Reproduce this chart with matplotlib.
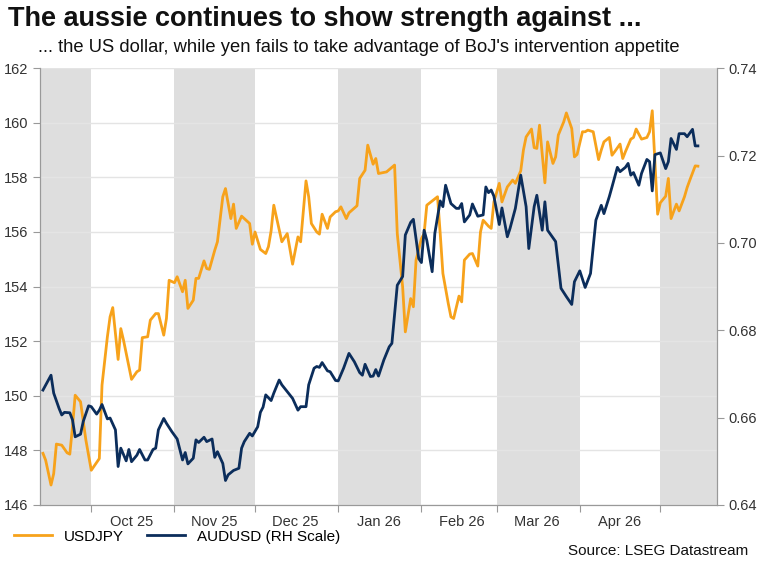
import matplotlib

matplotlib.use("Agg")

import matplotlib.pyplot as plt
import pandas as pd
from matplotlib.lines import Line2D

plt.rcParams["font.family"] = ["Liberation Sans", "DejaVu Sans"]

BASE = pd.Timestamp("2025-10-01")

# days from 1 Oct 2025
usdjpy_days = [-18, -17, -15, -14, -13, -11, -9, -8, -7, -6, -4, -2, 0, 3, 4, 6, 7, 8, 10, 11,
               12, 15, 17, 18, 19, 21, 22, 24, 25, 27, 28, 29, 31, 32, 34, 35, 36, 38, 39, 40,
               42, 43, 44, 46, 47, 49, 50, 52, 53, 54, 56, 59, 60, 61, 63, 65, 66, 67, 68, 70,
               71, 73, 74, 75, 77, 78, 80, 81, 82, 84, 85, 86, 88, 89, 91, 92, 93, 95, 96, 99,
               100, 102, 103, 105, 106, 107, 110, 113, 114, 116, 117, 119, 120, 121, 123, 124, 125, 129, 130, 131,
               133, 134, 135, 137, 138, 139, 141, 142, 144, 145, 146, 148, 149, 150, 152, 153, 155, 157, 158, 160,
               161, 162, 164, 165, 166, 167, 169, 170, 172, 173, 174, 176, 177, 179, 180, 181, 183, 184, 185, 187,
               189, 190, 191, 193, 194, 195, 197, 198, 199, 201, 202, 203, 205, 207, 208, 209, 211, 212, 214, 215,
               216, 218, 219, 221, 222, 223, 225, 226]
usdjpy = [147.89, 147.64, 146.73, 147.15, 148.23, 148.19, 147.91, 147.86, 148.86, 150.02, 149.78, 148.37, 147.27, 147.70, 150.39, 152.16, 152.89, 153.23, 151.33, 152.46,
          152.04, 150.60, 150.88, 150.94, 152.13, 152.16, 152.77, 153.01, 153.01, 152.22, 152.83, 154.23, 154.14, 154.36, 153.81, 154.23, 153.20, 153.50, 154.30, 154.30,
          154.94, 154.66, 154.63, 155.33, 155.64, 157.29, 157.59, 156.49, 157.02, 156.13, 156.58, 156.31, 155.55, 156.00, 155.36, 155.21, 155.46, 156.04, 156.98, 156.09,
          155.64, 155.94, 155.39, 154.82, 155.82, 155.64, 157.87, 157.29, 156.31, 156.00, 155.92, 156.65, 156.13, 156.55, 156.74, 156.77, 156.92, 156.49, 156.70, 156.96,
          157.96, 158.26, 159.18, 158.48, 158.69, 158.14, 158.20, 158.45, 155.94, 153.99, 152.34, 153.56, 153.26, 154.97, 155.76, 155.94, 156.98, 157.29, 155.94, 154.48,
          153.38, 152.89, 152.83, 153.65, 153.44, 154.97, 155.19, 155.21, 154.75, 156.00, 156.43, 156.21, 156.13, 157.10, 157.78, 157.10, 157.65, 157.90, 157.78, 158.24,
          159.00, 159.48, 159.77, 159.09, 159.06, 159.91, 157.80, 159.30, 158.51, 158.75, 159.55, 160.03, 160.36, 159.79, 158.75, 158.84, 159.67, 159.67, 159.73, 159.67,
          158.65, 159.00, 159.30, 159.46, 158.81, 158.94, 159.22, 158.69, 158.94, 159.40, 159.46, 159.77, 159.40, 159.46, 159.67, 160.44, 156.65, 157.07, 157.31, 157.96,
          156.49, 157.02, 156.77, 157.29, 157.63, 157.90, 158.42, 158.41]

audusd_days = [-18, -15, -14, -12, -11, -10, -8, -7, -6, -4, -3, -1, 0, 2, 3, 4, 6, 7, 9, 10,
               11, 13, 14, 15, 17, 18, 20, 21, 23, 24, 25, 27, 28, 30, 32, 34, 35, 36, 38, 39,
               40, 42, 43, 45, 46, 47, 49, 50, 51, 53, 55, 56, 57, 59, 60, 62, 63, 64, 65, 67,
               68, 70, 71, 75, 77, 78, 80, 81, 83, 84, 85, 86, 88, 89, 91, 92, 94, 96, 98, 100,
               101, 102, 104, 105, 106, 107, 109, 111, 112, 114, 116, 117, 119, 120, 122, 123, 124, 125, 127, 128,
               130, 131, 132, 134, 136, 137, 138, 139, 141, 142, 144, 146, 147, 148, 149, 150, 152, 153, 155, 156,
               158, 160, 162, 163, 165, 166, 168, 169, 170, 173, 175, 177, 179, 180, 182, 184, 186, 188, 190, 191,
               193, 194, 196, 197, 199, 200, 201, 202, 204, 205, 207, 208, 209, 210, 212, 214, 215, 216, 218, 219,
               221, 222, 224, 225, 226]
audusd = [0.6663, 0.6697, 0.6656, 0.6621, 0.6606, 0.6612, 0.6611, 0.6595, 0.6556, 0.6562, 0.6591, 0.6627, 0.6625, 0.6608, 0.6617, 0.6630, 0.6597, 0.6599, 0.6572, 0.6488,
          0.6530, 0.6501, 0.6527, 0.6499, 0.6514, 0.6527, 0.6503, 0.6503, 0.6527, 0.6530, 0.6572, 0.6598, 0.6587, 0.6568, 0.6551, 0.6503, 0.6520, 0.6494, 0.6507, 0.6549,
          0.6543, 0.6555, 0.6545, 0.6551, 0.6509, 0.6522, 0.6495, 0.6456, 0.6469, 0.6479, 0.6484, 0.6530, 0.6545, 0.6564, 0.6558, 0.6579, 0.6612, 0.6624, 0.6652, 0.6639,
          0.6656, 0.6686, 0.6675, 0.6644, 0.6617, 0.6625, 0.6625, 0.6675, 0.6713, 0.6717, 0.6715, 0.6726, 0.6707, 0.6705, 0.6685, 0.6684, 0.6713, 0.6747, 0.6728, 0.6703,
          0.6697, 0.6722, 0.6694, 0.6695, 0.6710, 0.6695, 0.6732, 0.6762, 0.6770, 0.6903, 0.6923, 0.7018, 0.7047, 0.7054, 0.6964, 0.6955, 0.7029, 0.7006, 0.6934, 0.7022,
          0.7096, 0.7083, 0.7132, 0.7090, 0.7079, 0.7079, 0.7090, 0.7048, 0.7064, 0.7089, 0.7061, 0.7064, 0.7128, 0.7115, 0.7121, 0.7107, 0.7042, 0.7080, 0.7014, 0.7033,
          0.7079, 0.7155, 0.7083, 0.6987, 0.7083, 0.7109, 0.7029, 0.7094, 0.7029, 0.7003, 0.6896, 0.6877, 0.6859, 0.6911, 0.6936, 0.6898, 0.6930, 0.7052, 0.7086, 0.7067,
          0.7106, 0.7128, 0.7173, 0.7163, 0.7173, 0.7182, 0.7155, 0.7161, 0.7132, 0.7159, 0.7191, 0.7186, 0.7119, 0.7202, 0.7206, 0.7170, 0.7186, 0.7239, 0.7214, 0.7250,
          0.7250, 0.7243, 0.7260, 0.7222, 0.7222]

shade_spans = [("2025-09-12", "2025-10-01"), ("2025-11-01", "2025-12-01"),
               ("2026-01-01", "2026-02-01"), ("2026-03-01", "2026-04-01"),
               ("2026-05-01", "2026-05-22")]
month_labels = ["Oct 25", "Nov 25", "Dec 25", "Jan 26", "Feb 26", "Mar 26", "Apr 26"]

ORANGE = "#F7A21B"
NAVY = "#0B2D5B"
TEXT = "#333333"

jpy_dates = [BASE + pd.Timedelta(days=d) for d in usdjpy_days]
aud_dates = [BASE + pd.Timedelta(days=d) for d in audusd_days]

fig = plt.figure(figsize=(7.6, 5.68), dpi=100)
ax = fig.add_axes([0.053, 0.111, 0.890, 0.769])
ax2 = ax.twinx()

for start, end in shade_spans:
    ax.axvspan(pd.Timestamp(start), pd.Timestamp(end), color="#DEDEDE", lw=0, zorder=0)

ax.set_ylim(146, 162)
ax.set_yticks(range(146, 163, 2))
ax.grid(axis="y", color="#E4E4E4", lw=1, zorder=1)
ax.set_axisbelow(True)
ax.plot(jpy_dates, usdjpy, color=ORANGE, lw=2, zorder=3)

ax2.set_ylim(0.64, 0.74)
ax2.set_yticks([0.64, 0.66, 0.68, 0.70, 0.72, 0.74])
ax2.yaxis.set_major_formatter(plt.FormatStrFormatter("%.2f"))
ax2.plot(aud_dates, audusd, color=NAVY, lw=2, zorder=3)

ax.set_xlim(pd.Timestamp("2025-09-12"), pd.Timestamp("2026-05-22"))
month_starts = pd.date_range("2025-10-01", "2026-05-01", freq="MS")
ax.set_xticks(month_starts)
ax.set_xticklabels([])
ax.set_xticks(month_starts[:-1] + pd.Timedelta(days=15), minor=True)
ax.set_xticklabels(month_labels, minor=True)
ax.tick_params(axis="x", which="major", length=5, color="#999999")
ax.tick_params(axis="x", which="minor", length=0, labelsize=10.5, colors=TEXT, pad=7)
ax.tick_params(axis="y", length=5, color="#999999", labelsize=10.5, labelcolor=TEXT)
ax2.tick_params(axis="y", length=5, color="#999999", labelsize=10.5, labelcolor=TEXT)

for a in (ax, ax2):
    a.spines["top"].set_visible(False)
    for s in ("left", "right", "bottom"):
        a.spines[s].set_color("#999999")

fig.text(0.010, 0.966, "The aussie continues to show strength against ...",
         fontsize=19.5, fontweight="bold", color="#111111", va="center")
fig.text(0.050, 0.917, "... the US dollar, while yen fails to take advantage of BoJ's intervention appetite",
         fontsize=13.2, color="#111111", va="center")

handles = [Line2D([], [], color=ORANGE, lw=2), Line2D([], [], color=NAVY, lw=2)]
fig.legend(handles, ["USDJPY", "AUDUSD (RH Scale)"], loc="center left",
           bbox_to_anchor=(0.0, 0.055), ncol=2, frameon=False, fontsize=11,
           handlelength=2.5, columnspacing=1.5)
fig.text(0.985, 0.018, "Source: LSEG Datastream", fontsize=11, color="#111111",
         ha="right", va="bottom")

fig.savefig("out.png", dpi=100)
